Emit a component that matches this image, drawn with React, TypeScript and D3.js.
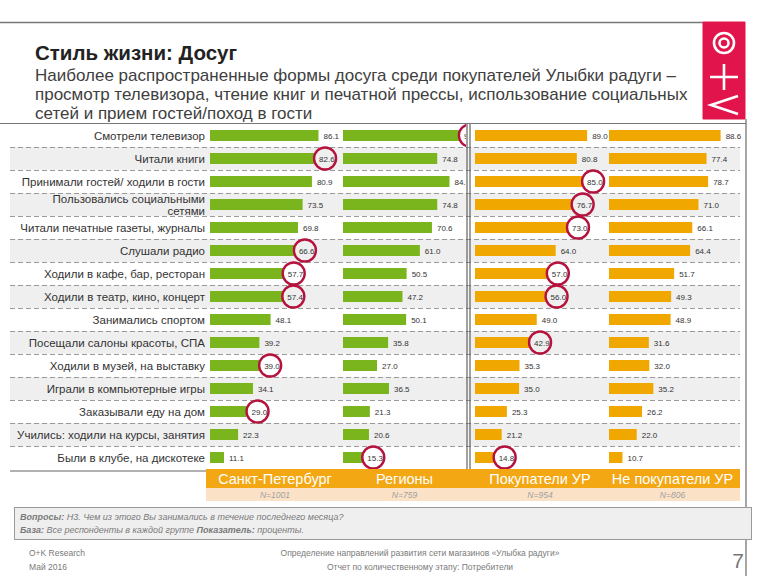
import React from "react";
import * as d3 from "d3";

const categories = [
  "Смотрели телевизор",
  "Читали книги",
  "Принимали гостей/ ходили в гости",
  "Пользовались социальными\nсетями",
  "Читали печатные газеты, журналы",
  "Слушали радио",
  "Ходили в кафе, бар, ресторан",
  "Ходили в театр, кино, концерт",
  "Занимались спортом",
  "Посещали салоны красоты, СПА",
  "Ходили в музей, на выставку",
  "Играли в компьютерные игры",
  "Заказывали еду на дом",
  "Учились: ходили на курсы, занятия",
  "Были в клубе, на дискотеке",
];

const groups = ["Санкт-Петербург", "Регионы", "Покупатели УР", "Не покупатели УР"];
const sampleSizes = ["N=1001", "N=759", "N=954", "N=806"];

const spbValues = [86.1, 82.6, 80.9, 73.5, 69.8, 66.6, 57.7, 57.4, 48.1, 39.2, 39.0, 34.1, 29.0, 22.3, 11.1];
const regionValues = [92.0, 74.8, 84.5, 74.8, 70.6, 61.0, 50.5, 47.2, 50.1, 35.8, 27.0, 36.5, 21.3, 20.6, 15.3];
const buyerValues = [89.0, 80.8, 85.0, 76.7, 73.0, 64.0, 57.0, 56.0, 49.0, 42.9, 35.3, 35.0, 25.3, 21.2, 14.8];
const nonBuyerValues = [88.6, 77.4, 78.7, 71.0, 66.1, 64.4, 51.7, 49.3, 48.9, 31.6, 32.0, 35.2, 26.2, 22.0, 10.7];

const spbCircled = [1, 5, 6, 7, 10, 12];
const regionCircled = [0, 14];
const buyerCircled = [2, 3, 4, 6, 7, 9, 14];
const nonBuyerCircled: number[] = [];

const series = [spbValues, regionValues, buyerValues, nonBuyerValues];
const circled = [spbCircled, regionCircled, buyerCircled, nonBuyerCircled];
const colors = ["#7ab51d", "#7ab51d", "#f0a800", "#f0a800"];

const FONT = "'Liberation Sans', Arial, sans-serif";

export default function App() {
  const rowsTop = 124;
  const rowH = 23;
  const y = d3
    .scaleBand<number>()
    .domain(d3.range(categories.length))
    .range([rowsTop, rowsTop + rowH * categories.length]);
  const rowsBottom = rowsTop + rowH * categories.length;
  const x = d3.scaleLinear().domain([0, 100]).range([0, 126]);
  const panelX = [210, 343, 475, 609];
  const panelRight = [340, 466, 605, 740];
  const barH = 11;

  return (
    <svg
      width={768}
      height={576}
      style={{ position: "absolute", left: 0, top: 0, background: "#fff" }}
      fontFamily={FONT}
    >
      <defs>
        <clipPath id="clip-p1">
          <rect x={340} y={rowsTop} width={126} height={rowsBottom - rowsTop} />
        </clipPath>
      </defs>
      {/* top line */}
      <line x1={0} x2={703} y1={22.5} y2={22.5} stroke="#777" strokeWidth={1.5} />
      {/* logo */}
      <path d="M703,22 H745 V119 H703 Z" fill="#e2144c" stroke="#e2144c" strokeWidth={1} />
      <path
        d="M734,43 A10,10 0 1,1 714,43 A10,10 0 1,1 734,43 Z M728.5,43 A4.5,4.5 0 1,1 719.5,43 A4.5,4.5 0 1,1 728.5,43 Z M710,77 H738 M724,64 V90 M738,96 L711,105 L738,114"
        fill="none"
        stroke="#ffffff"
        strokeWidth={2.6}
      />
      {/* right frame line */}
      <line x1={746} x2={746} y1={119} y2={576} stroke="#888" strokeWidth={1.5} />

      {/* title */}
      <text x={35} y={60} fontSize={20.5} fontWeight="bold" fill="#222">
        Стиль жизни: Досуг
      </text>
      <g fontSize={17} fill="#404040">
        <text x={35} y={81}>Наиболее распространенные формы досуга среди покупателей Улыбки радуги –</text>
        <text x={35} y={100}>просмотр телевизора, чтение книг и печатной прессы, использование социальных</text>
        <text x={35} y={119}>сетей и прием гостей/поход в гости</text>
      </g>
      <line x1={0} x2={746} y1={123.5} y2={123.5} stroke="#777" strokeWidth={1.2} />

      {/* row bands */}
      {categories.map((_, i) =>
        i % 2 === 1 ? (
          <rect key={"b" + i} x={10} y={y(i)!} width={730} height={rowH} fill="#efefef" />
        ) : null
      )}
      {/* dashed separators */}
      {categories.slice(1).map((_, i) => (
        <line
          key={"d" + i}
          x1={10}
          x2={740}
          y1={y(i + 1)! + 0.5}
          y2={y(i + 1)! + 0.5}
          stroke="#9a9a9a"
          strokeWidth={1}
          strokeDasharray="5,3"
        />
      ))}

      {/* category labels */}
      {categories.map((c, i) => {
        const lines = c.split("\n");
        const cy = y(i)! + rowH / 2;
        return (
          <text key={"c" + i} x={205} textAnchor="end" fontSize={11.5} fill="#333">
            {lines.map((l, j) => (
              <tspan key={j} x={205} y={cy + 4 + (j - (lines.length - 1) / 2) * 12}>
                {l}
              </tspan>
            ))}
          </text>
        );
      })}

      {/* bars */}
      {series.map((vals, p) => (
        <g key={"p" + p} clipPath={p === 1 ? "url(#clip-p1)" : undefined}>
          {vals.map((v, i) => {
            const cy = y(i)! + rowH / 2;
            return (
              <g key={i}>
                <rect x={panelX[p]} y={cy - barH / 2} width={x(v)} height={barH} fill={colors[p]} />
                <text x={panelX[p] + x(v) + 5} y={cy + 3} fontSize={8} fill="#333">
                  {v.toFixed(1)}
                </text>
              </g>
            );
          })}
          {circled[p].map((i) => {
            const cy = y(i)! + rowH / 2;
            return (
              <circle
                key={"k" + i}
                cx={panelX[p] + x(vals[i]) + 11}
                cy={cy}
                r={11}
                fill="none"
                stroke="#b5123d"
                strokeWidth={2.4}
              />
            );
          })}
        </g>
      ))}

      {/* double separator */}
      <line x1={467} x2={467} y1={rowsTop} y2={rowsBottom} stroke="#444" strokeWidth={1} />
      <line x1={470} x2={470} y1={rowsTop} y2={rowsBottom} stroke="#444" strokeWidth={1} />

      {/* bottom left line */}
      <line x1={10} x2={206} y1={rowsBottom + 2} y2={rowsBottom + 2} stroke="#666" strokeWidth={1.2} />

      {/* group bands */}
      <rect x={206} y={rowsBottom} width={534} height={19} fill="#f3a712" />
      <rect x={206} y={rowsBottom + 19} width={534} height={13} fill="#fbe2c6" />
      {groups.map((g, p) => {
        const cx = (panelX[p] + panelRight[p]) / 2 + (p === 3 ? -2 : 0);
        return (
          <g key={"g" + p}>
            <text x={cx} y={rowsBottom + 14.5} fontSize={14.5} fill="#fff" textAnchor="middle">
              {g}
            </text>
            <text
              x={cx}
              y={rowsBottom + 29}
              fontSize={8.5}
              fontStyle="italic"
              fill="#a0a0a0"
              textAnchor="middle"
            >
              {sampleSizes[p]}
            </text>
          </g>
        );
      })}

      {/* footnote box */}
      <rect x={14.5} y={507.5} width={737} height={32} fill="#efefef" stroke="#999" strokeWidth={1} />
      <g fontSize={9} fontStyle="italic" fill="#7a7a7a">
        <text x={20} y={520}>
          <tspan fontWeight="bold">Вопросы: </tspan>
          <tspan>Н3. Чем из этого Вы занимались в течение последнего месяца?</tspan>
        </text>
        <text x={20} y={533}>
          <tspan fontWeight="bold">База: </tspan>
          <tspan>Все респонденты в каждой группе </tspan>
          <tspan fontWeight="bold">Показатель: </tspan>
          <tspan>проценты.</tspan>
        </text>
      </g>

      {/* page footer */}
      <g fontSize={8.5} fill="#7a7a7a">
        <text x={29} y={556}>O+K Research</text>
        <text x={29} y={570}>Май 2016</text>
        <text x={420} y={556} textAnchor="middle">
          Определение направлений развития сети магазинов «Улыбка радуги»
        </text>
        <text x={420} y={570} textAnchor="middle">
          Отчет по количественному этапу: Потребители
        </text>
      </g>
      <text x={744} y={568} fontSize={21} fill="#777" textAnchor="end">
        7
      </text>
    </svg>
  );
}
